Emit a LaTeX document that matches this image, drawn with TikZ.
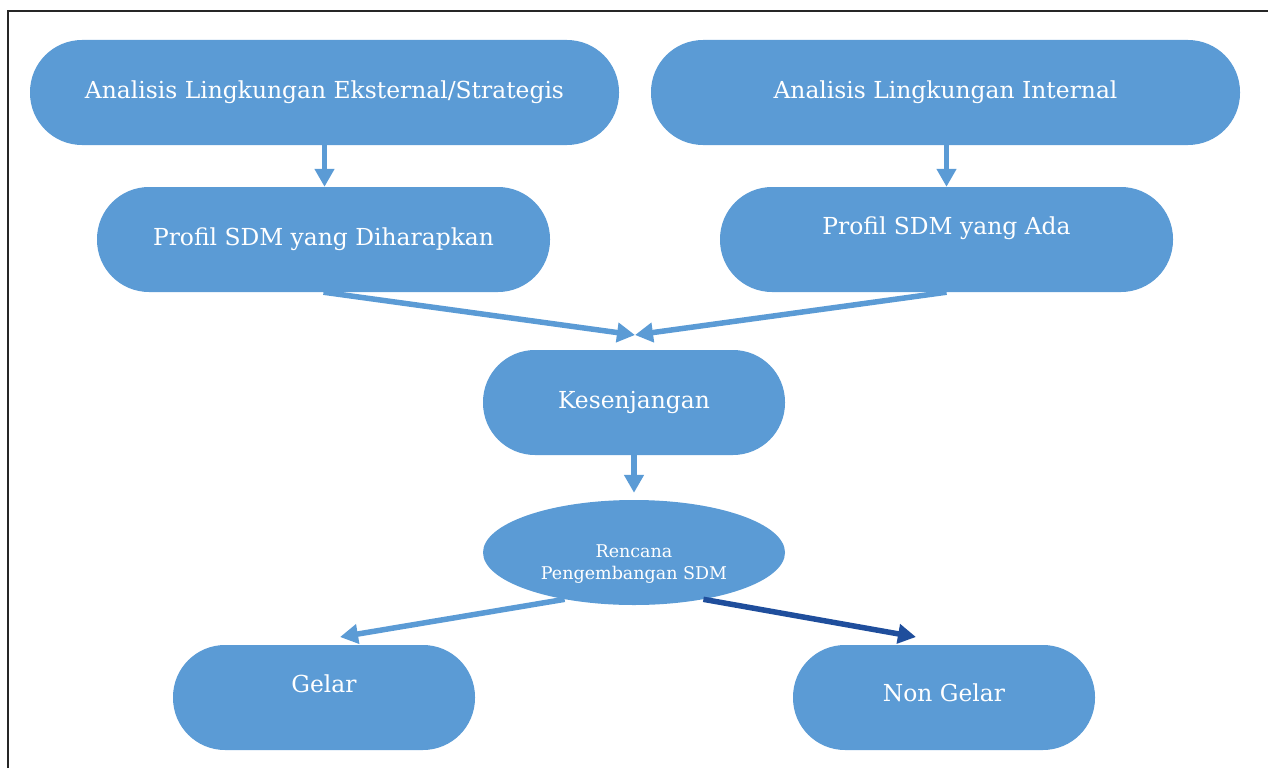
\documentclass[tikz,border=0pt]{standalone}
\usepackage{fontspec}
\setmainfont{DejaVu Serif}
\usetikzlibrary{arrows.meta,shapes.geometric}
\definecolor{boxblue}{HTML}{5B9BD5}
\definecolor{darkarrow}{HTML}{1F4E9C}
\begin{document}
\begin{tikzpicture}[x=1pt,y=-1pt,
  box/.style={fill=boxblue, rounded corners=52pt, minimum height=105pt, inner sep=0pt,
    text=white, font=\fontsize{23.4}{27}\selectfont},
  oval/.style={ellipse, fill=boxblue, minimum width=302pt, minimum height=105pt, inner sep=0pt,
    text=white, font=\fontsize{17.5}{22}\selectfont},
  conn/.style={draw=boxblue, line width=5.5pt, -{Triangle[length=18pt,width=19pt]}},
  darkconn/.style={conn, draw=darkarrow, -{Triangle[length=18pt,width=19pt,fill=darkarrow]}},
  frameline/.style={draw=black!85, line width=1.3pt}]
\useasboundingbox (0,0) rectangle (1268,768);
\draw[frameline] (8,768) -- (8,11) -- (1268,11);

\node[box, minimum width=589pt] (A) at (324.5,92.5) {\raisebox{3pt}{Analisis Lingkungan Eksternal/Strategis}};
\node[box, minimum width=589pt] (B) at (945.5,92.5) {\raisebox{3pt}{Analisis Lingkungan Internal}};
\node[box, minimum width=453pt] (C) at (323.5,239.5) {\raisebox{3pt}{Profil SDM yang Diharapkan}};
\node[box, minimum width=453pt] (D) at (946.5,239.5) {\raisebox{27pt}{Profil SDM yang Ada}};
\node[box, minimum width=302pt] (E) at (634,402.5) {\raisebox{3pt}{Kesenjangan}};
\node[oval] (F) at (634,552.5) {\raisebox{-16pt}[0pt][0pt]{\begin{tabular}{@{}c@{}}Rencana\\Pengembangan SDM\end{tabular}}};
\node[box, minimum width=302pt] (G) at (324,697.5) {\raisebox{27pt}{Gelar}};
\node[box, minimum width=302pt] (H) at (944,697.5) {\raisebox{9pt}{Non Gelar}};

\coordinate (m) at (635,335);
\coordinate (gt) at (340,637);
\coordinate (ht) at (916,637);

\draw[conn] (A.south) -- (A.south |- C.north);
\draw[conn] (D.north |- B.south) -- (D.north);
\draw[conn] (C.south) -- (m);
\draw[conn] (D.south) -- (m);
\draw[conn] (E.south) -- ([yshift=7pt]F.north);
\draw[conn] (F.214) -- (gt);
\draw[darkconn] (F.326) -- (ht);
\end{tikzpicture}
\end{document}
